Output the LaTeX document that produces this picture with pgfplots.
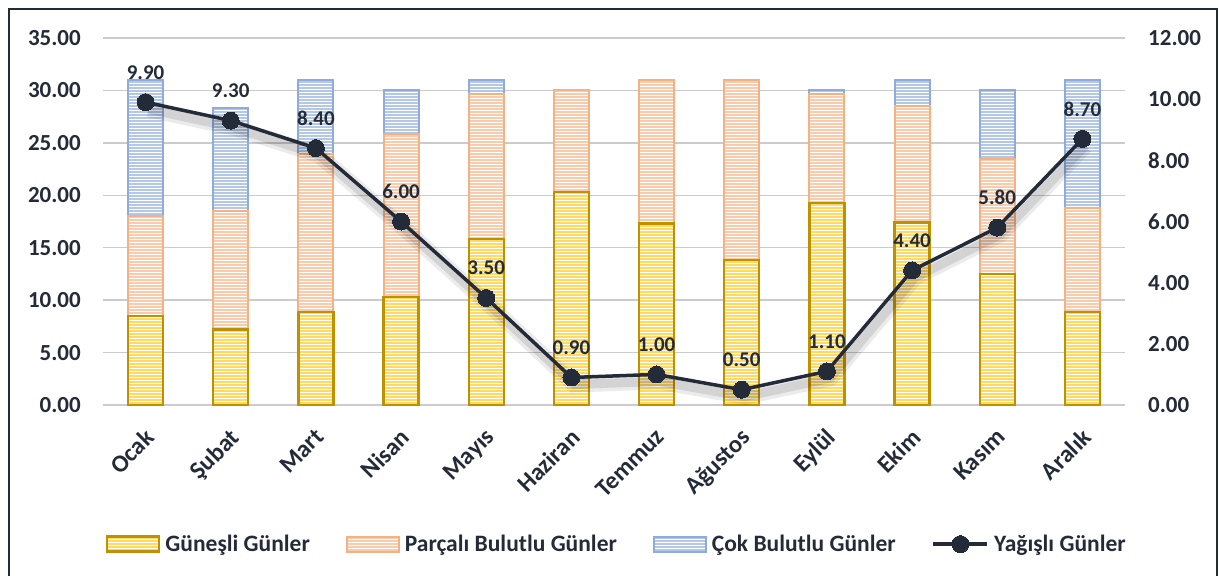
\documentclass[border=0pt]{standalone}
\usepackage{fontspec}
\setmainfont{Carlito}
\usepackage{pgfplots}
\usepackage{pgfplotstable}
\pgfplotsset{compat=1.18}
\usetikzlibrary{patterns}
\definecolor{txt}{HTML}{242B38}
\definecolor{yelF}{HTML}{FFD966}
\definecolor{yelB}{HTML}{BF9000}
\definecolor{orF}{HTML}{F8CBAD}
\definecolor{orB}{HTML}{F4B183}
\definecolor{blF}{HTML}{B4C7E7}
\definecolor{blB}{HTML}{8FAADC}
\definecolor{gridc}{HTML}{CBCBCB}
\newcommand\tf{\fontsize{23}{27}\selectfont\bfseries}
\newcommand\xf{\fontsize{24.5}{28}\selectfont\bfseries}
\newcommand\lf{\fontsize{23.5}{27}\selectfont\bfseries}
\newcommand\df{\fontsize{21}{25}\selectfont\bfseries}

\pgfdeclarepatternformonly{hstripes}{\pgfqpoint{-1pt}{0pt}}{\pgfqpoint{81pt}{3pt}}{\pgfqpoint{80pt}{3pt}}{%
  \pgfpathrectangle{\pgfqpoint{-1pt}{0pt}}{\pgfqpoint{82pt}{1.2pt}}\pgfusepath{fill}}

\pgfplotstableread{
x sun part
0 8.5 9.5
1 7.2 11.3
2 8.9 15.0
3 10.3 15.5
4 15.8 13.9
5 20.3 9.7
6 17.3 13.7
7 13.8 17.2
8 19.3 10.4
9 17.4 11.1
10 12.5 11.0
11 8.9 9.9
}\stackdata

% top of the "Çok Bulutlu" segment (bar total), months with cloudy days only
\pgfplotstableread{
x total
0 31.0
1 28.3
2 31.0
3 30.0
4 31.0
8 30.0
9 31.0
10 30.0
11 31.0
}\clouddata

\pgfplotstableread{
x rain
0 9.9
1 9.3
2 8.4
3 6.0
4 3.5
5 0.9
6 1.0
7 0.5
8 1.1
9 4.4
10 5.8
11 8.7
}\raindata

\pgfplotsset{
  base/.style={at={(0,0)}, anchor=south west, scale only axis,
    width=1022pt, height=367pt, xmin=-0.5, xmax=11.5,
    axis line style={draw=none}, major tick length=0pt, tick style={draw=none},
    scaled y ticks=false},
  stripes/.style={postaction={pattern=hstripes, pattern color=white}},
  sunsty/.style={fill=yelF, draw=yelB, line width=2.2pt, stripes},
  partsty/.style={fill=orF, draw=orB, line width=2pt, stripes},
  cloudsty/.style={fill=blF, draw=blB, line width=2pt, stripes},
  boxlegend/.style={legend image code/.code={\draw[##1] (0pt,-7.5pt) rectangle (52pt,7.5pt);}},
  linelegend/.style={legend image code/.code={\draw[mark repeat=2, mark phase=2, ##1] plot coordinates {(0pt,0pt) (27pt,0pt) (54pt,0pt)};}},
}

\begin{document}
\begin{tikzpicture}[x=1pt,y=1pt]
\useasboundingbox (-103,-171) rectangle (1116,405);
\draw[txt, line width=2pt] (-94,-180) -- (-94,396) -- (1114,396) -- (1114,-180);

% axis 1: grid, left ticks, month labels, cloudy bars
\begin{axis}[base, ymin=0, ymax=35, ytick={0,5,...,35},
  ymajorgrids, grid style={color=gridc, line width=1.5pt},
  xtick={0,...,11},
  xticklabels={Ocak,Şubat,Mart,Nisan,Mayıs,Haziran,Temmuz,Ağustos,Eylül,Ekim,Kasım,Aralık},
  xticklabel style={font=\xf, color=txt, inner sep=0pt, xshift=-2pt, yshift=-22pt, rotate=45, anchor=north east},
  yticklabel style={font=\tf, color=txt, inner sep=0pt, anchor=east, xshift=-22pt,
    /pgf/number format/.cd, fixed, fixed zerofill, precision=2, assume math mode=true},
  ybar, bar width=35pt]
\addplot[cloudsty] table[x=x, y=total] {\clouddata};
\end{axis}

% axis 2: stacked sunny and partly cloudy bars
\begin{axis}[base, ymin=0, ymax=35, xtick=\empty, ytick=\empty,
  ybar stacked, bar width=35pt]
\addplot[sunsty] table[x=x, y=sun] {\stackdata};
\addplot[partsty] table[x=x, y=part] {\stackdata};
\end{axis}

% axis 3: rainy days line, right axis, legend
\begin{axis}[base, ymin=0, ymax=12, ytick={0,2,...,12}, xtick=\empty,
  yticklabel pos=right,
  yticklabel style={font=\tf, color=txt, inner sep=0pt, anchor=west, xshift=23pt,
    /pgf/number format/.cd, fixed, fixed zerofill, precision=2, assume math mode=true},
  legend columns=4,
  legend style={draw=none, fill=none, at={(0.003,-0.379)}, anchor=west,
    inner sep=0pt, font=\lf, text=txt,
    nodes={inner sep=0pt},
    /tikz/every odd column/.append style={column sep=5pt},
    /tikz/every even column/.append style={column sep=36pt}},
  legend cell align=left]
\addlegendimage{sunsty, boxlegend}
\addlegendentry{Güneşli Günler}
\addlegendimage{partsty, boxlegend}
\addlegendentry{Parçalı Bulutlu Günler}
\addlegendimage{cloudsty, boxlegend}
\addlegendentry{Çok Bulutlu Günler}
\addplot[forget plot, draw=black, opacity=0.08, line width=16pt, xshift=3pt, yshift=-7pt] table[x=x, y=rain] {\raindata};
\addplot[forget plot, draw=black, opacity=0.10, line width=9pt, xshift=3pt, yshift=-7pt] table[x=x, y=rain] {\raindata};
\addplot[color=txt, line width=3.5pt, mark=*, mark size=8.5pt,
  mark options={fill=txt, draw=txt, line width=0pt}, linelegend,
  nodes near coords={\pgfmathprintnumber[fixed,fixed zerofill,precision=2,assume math mode=true]{\pgfplotspointmeta}},
  every node near coord/.append style={font=\df, color=txt, anchor=center, yshift=30pt}]
  table[x=x, y=rain] {\raindata};
\addlegendentry{Yağışlı Günler}
\end{axis}
\end{tikzpicture}
\end{document}
